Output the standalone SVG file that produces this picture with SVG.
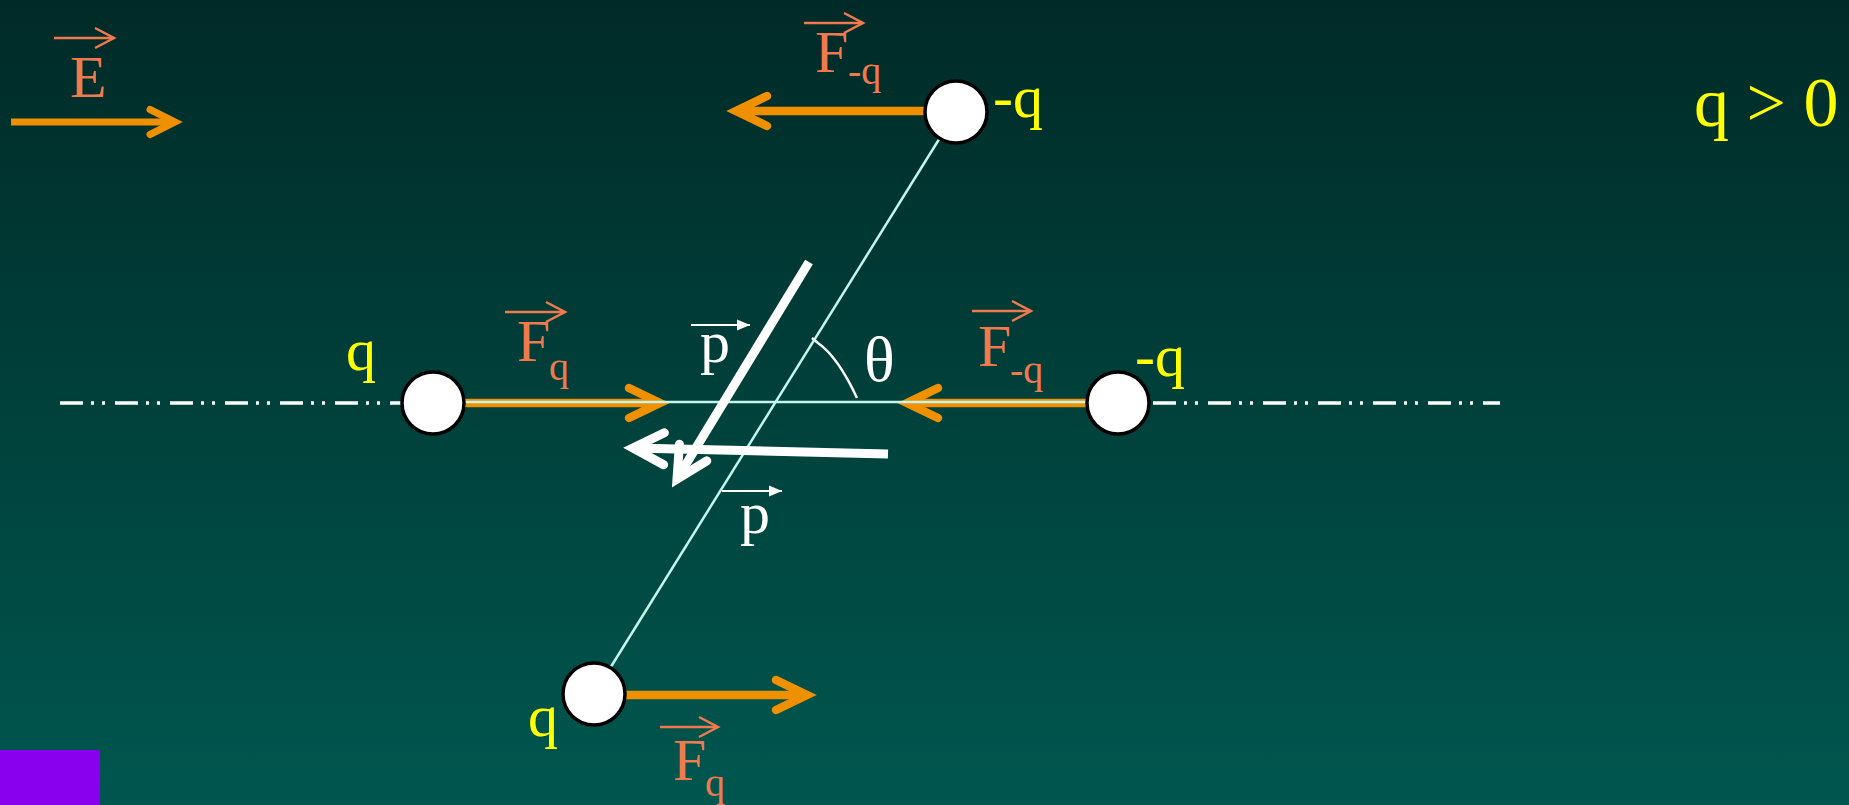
<svg xmlns="http://www.w3.org/2000/svg" width="1849" height="805" viewBox="0 0 1849 805">
<defs>
  <linearGradient id="bg" x1="0" y1="0" x2="0" y2="1">
    <stop offset="0" stop-color="#002a27"/>
    <stop offset="1" stop-color="#00574f"/>
  </linearGradient>
  <marker id="ho" markerUnits="userSpaceOnUse" viewBox="-50 -30 60 60" refX="0" refY="0" markerWidth="60" markerHeight="60" orient="auto">
    <path d="M-31,-15 L0,0 L-31,15" fill="none" stroke="#ef9000" stroke-width="8.5" stroke-linecap="round" stroke-linejoin="miter"/>
  </marker>
  <marker id="hoe" markerUnits="userSpaceOnUse" viewBox="-50 -30 60 60" refX="0" refY="0" markerWidth="60" markerHeight="60" orient="auto">
    <path d="M-25,-12.5 L0,0 L-25,12.5" fill="none" stroke="#ef9000" stroke-width="7" stroke-linecap="round" stroke-linejoin="miter"/>
  </marker>
  <marker id="hw" markerUnits="userSpaceOnUse" viewBox="-50 -30 60 60" refX="0" refY="0" markerWidth="60" markerHeight="60" orient="auto">
    <path d="M-31,-16 L0,0 L-31,16" fill="none" stroke="#ffffff" stroke-width="9" stroke-linecap="round" stroke-linejoin="miter"/>
  </marker>
  <marker id="hc" markerUnits="userSpaceOnUse" viewBox="-30 -15 35 30" refX="0" refY="0" markerWidth="35" markerHeight="30" orient="auto">
    <path d="M-19,-10 L0,0 L-19,10" fill="none" stroke="#f07a4e" stroke-width="2.5" stroke-linecap="butt"/>
  </marker>
  <marker id="ht" markerUnits="userSpaceOnUse" viewBox="-20 -10 25 20" refX="0" refY="0" markerWidth="25" markerHeight="20" orient="auto">
    <path d="M-13,-5.5 L0,0 L-13,5.5 Z" fill="#ffffff"/>
  </marker>
  <style>
    .t{font-family:"Liberation Serif","Times New Roman",serif;}
    .coral{fill:#f07a4e;}
    .yel{fill:#ffff00;}
    .wht{fill:#ffffff;}
    .big{font-size:60px;}
    .sub{font-size:40px;}
    .ora{stroke:#ef9000;stroke-width:8.5;fill:none;marker-end:url(#ho);}
    .over{stroke:#f07a4e;stroke-width:2.5;fill:none;marker-end:url(#hc);}
    .pov{stroke:#ffffff;stroke-width:2;fill:none;marker-end:url(#ht);}
    .thick{stroke:#ffffff;stroke-width:9;fill:none;marker-end:url(#hw);}
    .cyan{stroke:#c4f6ef;stroke-width:2.5;fill:none;}
    .axis{stroke:#ffffff;stroke-width:3.5;fill:none;stroke-dasharray:23 8 3 8 3 10;}
    .charge{fill:#ffffff;stroke:#000000;stroke-width:3.5;}
  </style>
</defs>
<rect x="0" y="0" width="1849" height="805" fill="url(#bg)"/>
<rect x="0" y="750" width="100" height="55" fill="#8800ee"/>

<g id="connectors">
  <path class="axis" d="M60,403 H402"/>
  <path class="axis" d="M1153,403 H1500"/>
  <path class="cyan" d="M956,112 L594,694"/>
  <path d="M11,122 H175" stroke="#ef9000" stroke-width="7" fill="none" marker-end="url(#hoe)"/>
  <path class="ora" d="M940,111 H736"/>
  <path class="ora" d="M440,403 H660"/>
  <path class="ora" d="M1110,403 H907"/>
  <path class="ora" d="M600,695 H807"/>
  <path class="cyan" d="M433,402 H1118"/>
  <path class="thick" d="M809,262 L677,479"/>
  <path class="thick" d="M888,454 L633,448"/>
  <path d="M812,338 L818,343 Q838,357 857,398" fill="none" stroke="#ffffff" stroke-width="2.5"/>
  <path class="over" d="M54,38 H114"/>
  <path class="over" d="M804,23 H863"/>
  <path class="over" d="M505,312 H565"/>
  <path class="over" d="M972,311 H1031"/>
  <path class="over" d="M660,727 H718"/>
  <path class="pov" d="M691,325 H750"/>
  <path class="pov" d="M722,491 H782"/>
</g>

<g id="charge-top">
  <circle class="charge" cx="956" cy="112" r="31"/>
  <text class="t yel big" x="993" y="117">-q</text>
</g>
<g id="charge-left">
  <circle class="charge" cx="433" cy="403" r="31"/>
  <text class="t yel big" x="346" y="370">q</text>
</g>
<g id="charge-right">
  <circle class="charge" cx="1118" cy="403" r="31"/>
  <text class="t yel big" x="1135" y="376">-q</text>
</g>
<g id="charge-bottom">
  <circle class="charge" cx="594" cy="694" r="31"/>
  <text class="t yel big" x="528" y="736">q</text>
</g>

<g id="labels">
  <text class="t coral big" x="70" y="97">E</text>
  <text class="t coral big" x="815" y="72">F</text>
  <text class="t coral sub" x="848" y="84">-q</text>
  <text class="t coral big" x="517" y="361">F</text>
  <text class="t coral sub" x="549" y="380">q</text>
  <text class="t coral big" x="978" y="366">F</text>
  <text class="t coral sub" x="1010" y="383">-q</text>
  <text class="t coral big" x="673" y="780">F</text>
  <text class="t coral sub" x="705" y="796">q</text>
  <text class="t wht big" x="700" y="362">p</text>
  <text class="t wht big" x="740" y="533">p</text>
  <text class="t wht" style="font-size:64px" x="864" y="381">θ</text>
  <text class="t yel" style="font-size:70px" x="1694" y="126">q &gt; 0</text>
</g>
</svg>
